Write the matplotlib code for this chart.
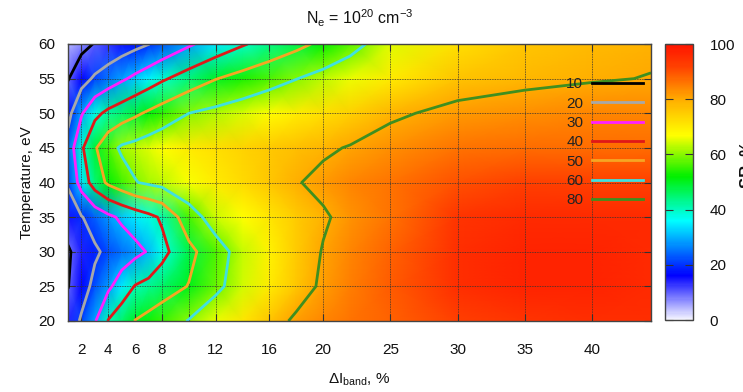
import matplotlib
matplotlib.use("Agg")
import matplotlib.pyplot as plt
import numpy as np
from matplotlib.colors import LinearSegmentedColormap
from matplotlib.lines import Line2D

plt.rcParams['font.family'] = ['Liberation Sans', 'DejaVu Sans']
plt.rcParams['mathtext.default'] = 'regular'

# band width (%) and temperature (eV) grid nodes
band = [1, 2, 3, 4, 5, 6, 7, 8, 10, 12, 14, 16, 18, 20, 22, 25, 30, 35, 40, 44.4]
temp = [20, 25, 30, 35, 40, 45, 50, 55, 60]

# values, one row per temperature
sr_20 = [14, 21.2, 29.2, 40.5, 45.5, 50.3, 52.8, 55.4, 60.5, 65.8, 71, 76.4, 81.5, 84, 86, 88, 92, 94, 95, 95]
sr_25 = [9.7, 16.1, 22.4, 28.2, 34.7, 40.5, 42.9, 45.4, 50.4, 58, 64.3, 70, 76, 81.5, 85, 89, 95, 97, 97, 96]
sr_30 = [8.8, 14.3, 18.7, 21.9, 24.7, 27.5, 30.7, 37.3, 47.3, 56.4, 63.5, 69, 75, 80.5, 84, 88, 95, 97, 97, 96]
sr_35 = [15, 19.5, 23.8, 28, 31.6, 34.6, 37.6, 41.2, 56, 64, 67, 71, 75, 79, 82.5, 86, 94, 96, 96, 96]
sr_40 = [21, 33.8, 44.7, 51.7, 55.7, 59.6, 61.4, 63, 66.5, 70, 73, 76, 79.5, 82, 84, 86, 90, 92, 92, 92]
sr_45 = [24, 38.5, 49, 56.6, 61.4, 63, 65, 67, 70, 72, 74, 75.5, 77, 78.8, 80.5, 83, 86, 87, 87, 87]
sr_50 = [17, 29.1, 37.6, 42.2, 45.3, 48.4, 51.4, 54.3, 60, 62.4, 64.8, 67.3, 69.7, 72.1, 74.5, 78.8, 82, 83, 84, 84]
sr_55 = [9.5, 16.3, 21.4, 25, 28.6, 32, 35.3, 38.7, 44.3, 49.7, 53.2, 56.5, 59.8, 63, 66, 70, 76.5, 78.5, 79.5, 80.2]
sr_60 = [4, 7.3, 10.5, 12.8, 15.2, 17.5, 19.8, 22.8, 28.8, 34.1, 39.2, 43.5, 47.6, 52, 56.8, 65, 72, 76, 78, 79]

levels = [10, 20, 30, 40, 50, 60, 80]
level_colors = ['black', '#a8a8a8', '#ff20ff', '#e01818', '#f5a623', '#40e0e0', '#3f8f1f']

xticks = [2, 4, 6, 8, 10, 12, 16, 20, 25, 30, 35, 40]
xlabels = ['2', '4', '6', '8', '', '12', '16', '20', '25', '30', '35', '40']

Z = np.array([sr_20, sr_25, sr_30, sr_35, sr_40, sr_45, sr_50, sr_55, sr_60])
X, Y = np.meshgrid(band, temp)

cmap = LinearSegmentedColormap.from_list('gp', [
    (0.00, '#f6f6ff'),
    (0.16, '#0000ff'),
    (0.36, '#00ffff'),
    (0.52, '#00f000'),
    (0.67, '#ffff00'),
    (0.79, '#ffb400'),
    (0.92, '#ff4000'),
    (1.00, '#ff1400'),
])

fig = plt.figure(figsize=(7.43, 3.92), dpi=100)
ax = fig.add_axes([68/743, 71/392, 583/743, 277/392])
cax = fig.add_axes([665/743, 72/392, 28/743, 276/392])

mesh = ax.pcolormesh(X, Y, Z, cmap=cmap, vmin=0, vmax=100, shading='gouraud', zorder=1)
ax.contour(X, Y, Z, levels=levels, colors=level_colors, linewidths=2.0, zorder=4)

ax.set_xlim(1, 44.4)
ax.set_ylim(20, 60)
ax.set_xticks(xticks)
ax.set_xticklabels(xlabels)
ax.set_yticks(range(20, 61, 5))
ax.tick_params(direction='in', top=True, right=True, length=5, width=0.8,
               labelsize=11, colors='#333333', labelcolor='#111111')
ax.tick_params(axis='x', pad=16)
ax.tick_params(axis='y', pad=9)
ax.grid(True, color='#333333', linestyle=(0, (1, 1)), linewidth=0.6, zorder=3)
ax.set_axisbelow(False)
for s in ax.spines.values():
    s.set_color('#444444')
    s.set_linewidth(1.0)
    s.set_zorder(5)

ax.set_title('N$_e$ = 10$^{20}$ cm$^{-3}$', fontsize=11.5, pad=14, color='#111111')
ax.set_xlabel('ΔI$_{band}$, %', fontsize=11, labelpad=10, color='#111111')
ax.set_ylabel('Temperature, eV', fontsize=11, labelpad=3, color='#111111')

handles = [Line2D([], [], color=c, linewidth=2.0) for c in level_colors]
leg = ax.legend(handles, [str(v) for v in levels], loc='upper right',
                bbox_to_anchor=(0.986, 0.88), frameon=False, markerfirst=False,
                fontsize=11, handlelength=3.3, handletextpad=0.6,
                labelspacing=0.35, borderpad=0, borderaxespad=0)
for t in leg.get_texts():
    t.set_color('#222222')
leg.set_zorder(6)

cb = fig.colorbar(mesh, cax=cax, ticks=[0, 20, 40, 60, 80, 100])
cb.outline.set_edgecolor('#444444')
cb.outline.set_linewidth(1.0)
cax.tick_params(direction='in', left=True, right=True, length=6, width=0.8,
                labelsize=11, pad=12, colors='#333333', labelcolor='#111111')

fig.text(739/743, 0.58, 'SR, %', rotation=90, ha='left', va='center',
         fontsize=12, fontweight='bold', color='#111111')

fig.savefig('out.png', dpi=100)
